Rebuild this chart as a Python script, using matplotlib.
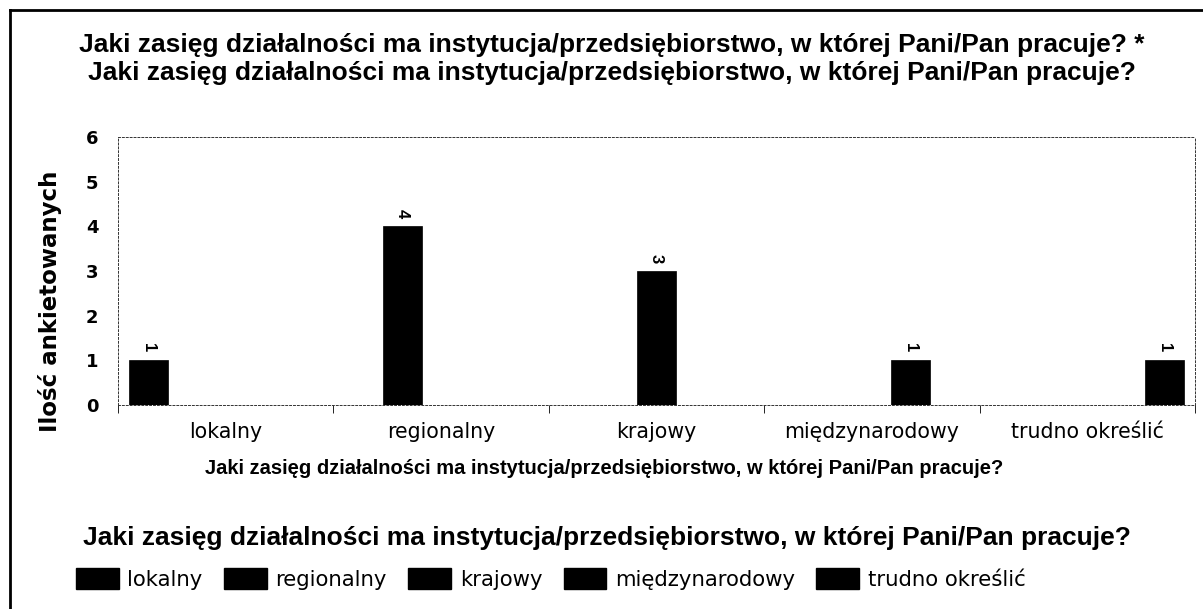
import matplotlib
matplotlib.use("Agg")
import matplotlib.pyplot as plt
from matplotlib.lines import Line2D
from matplotlib.patches import Patch
import numpy as np

question = "Jaki zasięg działalności ma instytucja/przedsiębiorstwo, w której Pani/Pan pracuje?"
categories = ["lokalny", "regionalny", "krajowy", "międzynarodowy", "trudno określić"]
series = ["lokalny", "regionalny", "krajowy", "międzynarodowy", "trudno określić"]
# counts[s][c] = respondents of series s in category c
counts = [
    [1, 0, 0, 0, 0],
    [0, 4, 0, 0, 0],
    [0, 0, 3, 0, 0],
    [0, 0, 0, 1, 0],
    [0, 0, 0, 0, 1],
]
y_ticks = [0, 1, 2, 3, 4, 5, 6]

NARROW = ["Liberation Sans Narrow", "Liberation Sans", "DejaVu Sans"]
W, H = 1203, 609

fig = plt.figure(figsize=(W / 100, H / 100), dpi=100)
ax = fig.add_axes([118 / W, 1 - 405 / H, (1195 - 118) / W, (405 - 137) / H])

x = np.arange(len(categories))
bw = 0.179
for k, s in enumerate(series):
    pos = x + (k - 2) * bw
    ax.bar(pos, counts[k], width=bw, color="black", edgecolor="black", lw=0.5)
    for p, v in zip(pos, counts[k]):
        if v > 0:
            ax.annotate(str(v), (p, v), xytext=(0, 9), textcoords="offset points",
                        ha="center", va="center", rotation=-90, fontsize=12,
                        fontweight="bold", family=NARROW)

ax.set_xlim(-0.5, len(categories) - 0.5)
ax.set_ylim(0, 6)
ax.set_yticks(y_ticks)
ax.set_yticklabels([str(t) for t in y_ticks], fontsize=13, fontweight="bold")
ax.set_xticks(x)
ax.set_xticklabels(categories, fontsize=14.8)
ax.set_xticks(np.arange(len(categories) + 1) - 0.5, minor=True)
ax.tick_params(axis="x", which="major", length=0, pad=12)
ax.tick_params(axis="x", which="minor", length=6, width=0.6, direction="out")
ax.tick_params(axis="y", length=0, pad=14)

for sp in ax.spines.values():
    sp.set_linestyle((0, (2, 2)))
    sp.set_linewidth(0.7)
    sp.set_color("#333333")

ax.set_ylabel("Ilość ankietowanych", fontsize=16.5, fontweight="bold")
ax.yaxis.set_label_coords(-0.052, 0.388)

fig.text(612 / W, 1 - 59 / H, question + " *\n" + question, ha="center", va="center",
         fontsize=19, fontweight="bold", family=NARROW, linespacing=1.22)
fig.text(604 / W, 1 - 468 / H, question, ha="center", va="center",
         fontsize=14.5, fontweight="bold", family=NARROW)
fig.text(607 / W, 1 - 538 / H, question, ha="center", va="center",
         fontsize=19, fontweight="bold", family=NARROW)

handles = [Patch(facecolor="black", edgecolor="black") for _ in series]
fig.legend(handles, series, loc="center left", bbox_to_anchor=(76 / W, 1 - 579 / H),
           ncol=5, frameon=False, borderpad=0, borderaxespad=0,
           handlelength=2.0, handleheight=1.15, handletextpad=0.42, columnspacing=1.0,
           prop={"size": 15.3})

# outer frame (top and left edges only)
fig.add_artist(Line2D([10 / W, 1], [1 - 10 / H, 1 - 10 / H], color="black", lw=2,
                      transform=fig.transFigure))
fig.add_artist(Line2D([10 / W, 10 / W], [0, 1 - 10 / H], color="black", lw=2,
                      transform=fig.transFigure))

fig.savefig("out.png", dpi=100)
